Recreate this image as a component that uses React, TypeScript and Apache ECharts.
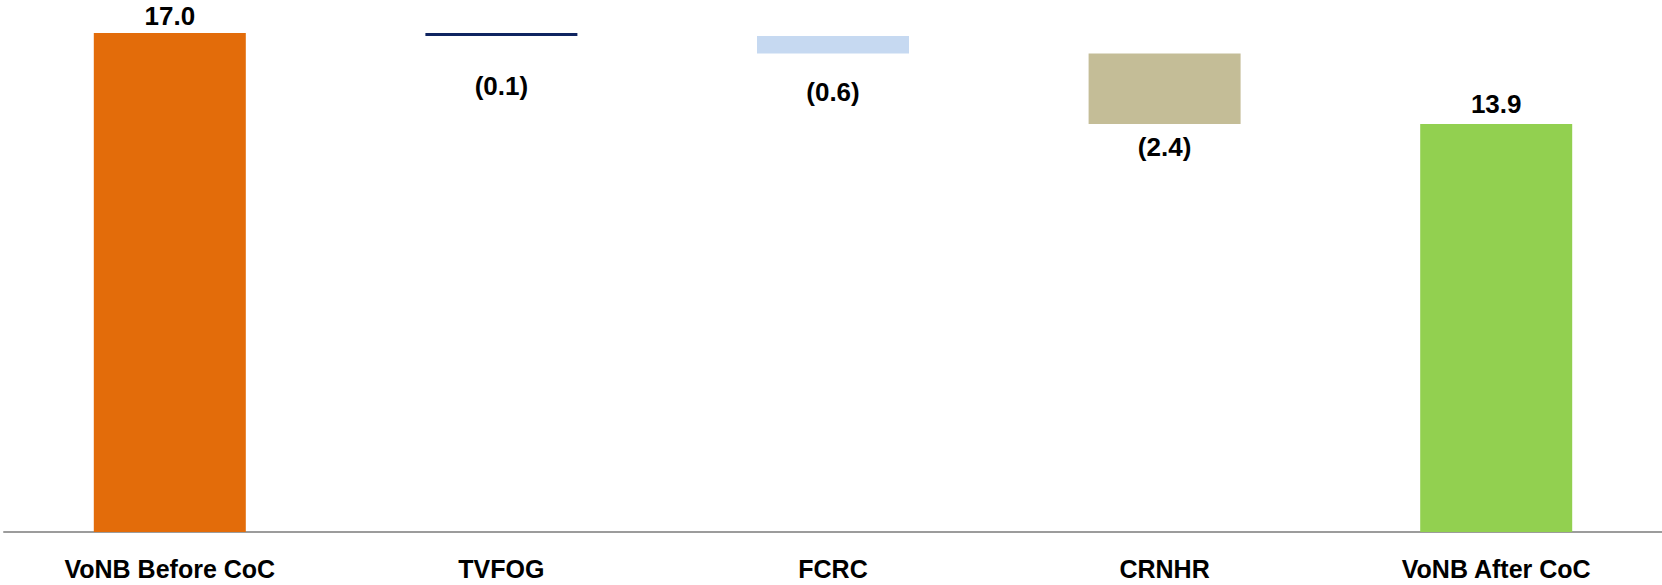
import React, { useEffect, useRef } from "react";
import * as echarts from "echarts";

const categories = ["VoNB Before CoC", "TVFOG", "FCRC", "CRNHR", "VoNB After CoC"];
// signed movements: first and last are totals
const values = [17.0, -0.1, -0.6, -2.4, 13.9];
const isTotal = [true, false, false, false, true];
const barColors = ["#E36C0A", "#0F2460", "#C6D9F1", "#C4BD97", "#92D050"];
// label distance from the bar (px)
const labelDistances = [4, 37, 25, 10, 7];

const FONT = "'Liberation Sans', Arial, sans-serif";

function fmt(v: number): string {
  const s = Math.abs(v).toFixed(1);
  return v < 0 ? `(${s})` : s;
}

export default function App() {
  const ref = useRef<HTMLDivElement>(null);

  useEffect(() => {
    if (!ref.current) return;
    const chart = echarts.init(ref.current, null, { renderer: "svg" });

    const base: number[] = [];
    const delta: number[] = [];
    let running = 0;
    values.forEach((v, i) => {
      if (isTotal[i]) {
        base.push(0);
        delta.push(v);
        running = v;
      } else {
        running = running + v;
        base.push(running);
        delta.push(Math.abs(v));
      }
    });

    chart.setOption({
      animation: false,
      grid: { left: 4, right: 0, top: 33, bottom: 53, containLabel: false },
      xAxis: {
        type: "category",
        data: categories,
        axisLine: { show: true, lineStyle: { color: "#9C9C9C", width: 2 } },
        axisTick: { show: false },
        axisLabel: {
          margin: 27,
          color: "#000",
          fontFamily: FONT,
          fontWeight: "bold",
          fontSize: 25,
          lineHeight: 20,
          interval: 0,
        },
      },
      yAxis: {
        type: "value",
        min: 0,
        max: 17,
        show: false,
        splitLine: { show: false },
      },
      series: [
        {
          type: "bar",
          stack: "wf",
          data: base,
          itemStyle: { color: "transparent" },
          barWidth: 152,
          silent: true,
        },
        {
          type: "bar",
          stack: "wf",
          barWidth: 152,
          data: delta.map((d, i) => ({
            value: d,
            itemStyle: { color: barColors[i] },
            label: {
              show: true,
              position: isTotal[i] ? "top" : "bottom",
              distance: labelDistances[i],
              formatter: fmt(values[i]),
              color: "#000",
              fontFamily: FONT,
              fontWeight: "bold",
              fontSize: 26,
            },
          })),
        },
      ],
    });

    return () => chart.dispose();
  }, []);

  return (
    <div
      ref={ref}
      style={{ position: "absolute", left: 0, top: 0, width: 1662, height: 585, background: "#fff" }}
    />
  );
}
